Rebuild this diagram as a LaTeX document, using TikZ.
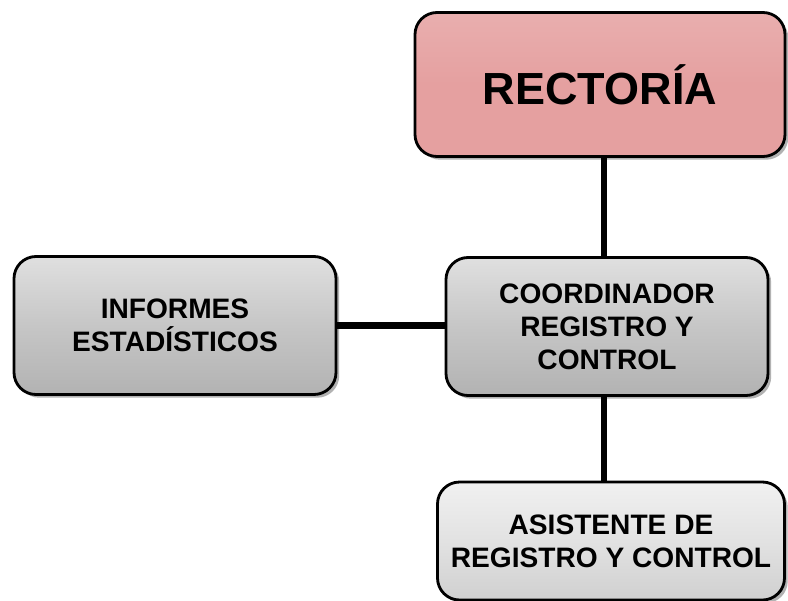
\documentclass[tikz,border=0pt]{standalone}
\usepackage{fontspec}
\setmainfont{Liberation Sans}
\usetikzlibrary{shadows}
\definecolor{rectpink}{RGB}{229,160,160}
\definecolor{boxgray}{RGB}{198,198,198}
\definecolor{boxlight}{RGB}{226,226,226}
\tikzset{
	orgbox/.style={draw=black, line width=2pt, rounded corners=0.55cm, align=center,
		font=\bfseries\fontsize{20}{23.5}\selectfont, inner sep=0pt,
		drop shadow={shadow xshift=0.08cm, shadow yshift=-0.08cm, fill=black!60}},
	link/.style={line width=4.3pt}
}
\begin{document}
\begin{tikzpicture}[x=0.025cm,y=-0.025cm]
		% fixed canvas
		\useasboundingbox (0,0) rectangle (788,600);
		\node[orgbox, top color=rectpink!85!white, bottom color=rectpink, middle color=rectpink, minimum width=370*0.025cm, minimum height=144*0.025cm, font=\bfseries\fontsize{32}{38}\selectfont] (rect) at (600,84.5) {RECTOR\'IA};
		\node[orgbox, top color=boxgray!55!white, bottom color=boxgray!90!black, middle color=boxgray, minimum width=322*0.025cm, minimum height=138*0.025cm] (inf) at (175,325.5) {INFORMES\\ESTAD\'ISTICOS};
		\node[orgbox, top color=boxgray!55!white, bottom color=boxgray!90!black, middle color=boxgray, minimum width=322*0.025cm, minimum height=138*0.025cm] (coord) at (607,326.5) {COORDINADOR\\REGISTRO Y\\CONTROL};
		\node[orgbox, top color=boxlight!50!white, bottom color=boxlight!92!black, middle color=boxlight, minimum width=347*0.025cm, minimum height=118*0.025cm] (asist) at (611,541) {ASISTENTE DE\\REGISTRO Y CONTROL};
		\draw[link] (rect.south -| 604,0) -- (coord.north -| 604,0);
		\draw[link] (inf.east) -- (inf.east -| coord.west);
		\draw[link] (coord.south -| 604,0) -- (asist.north -| 604,0);
	\end{tikzpicture}
\end{document}
